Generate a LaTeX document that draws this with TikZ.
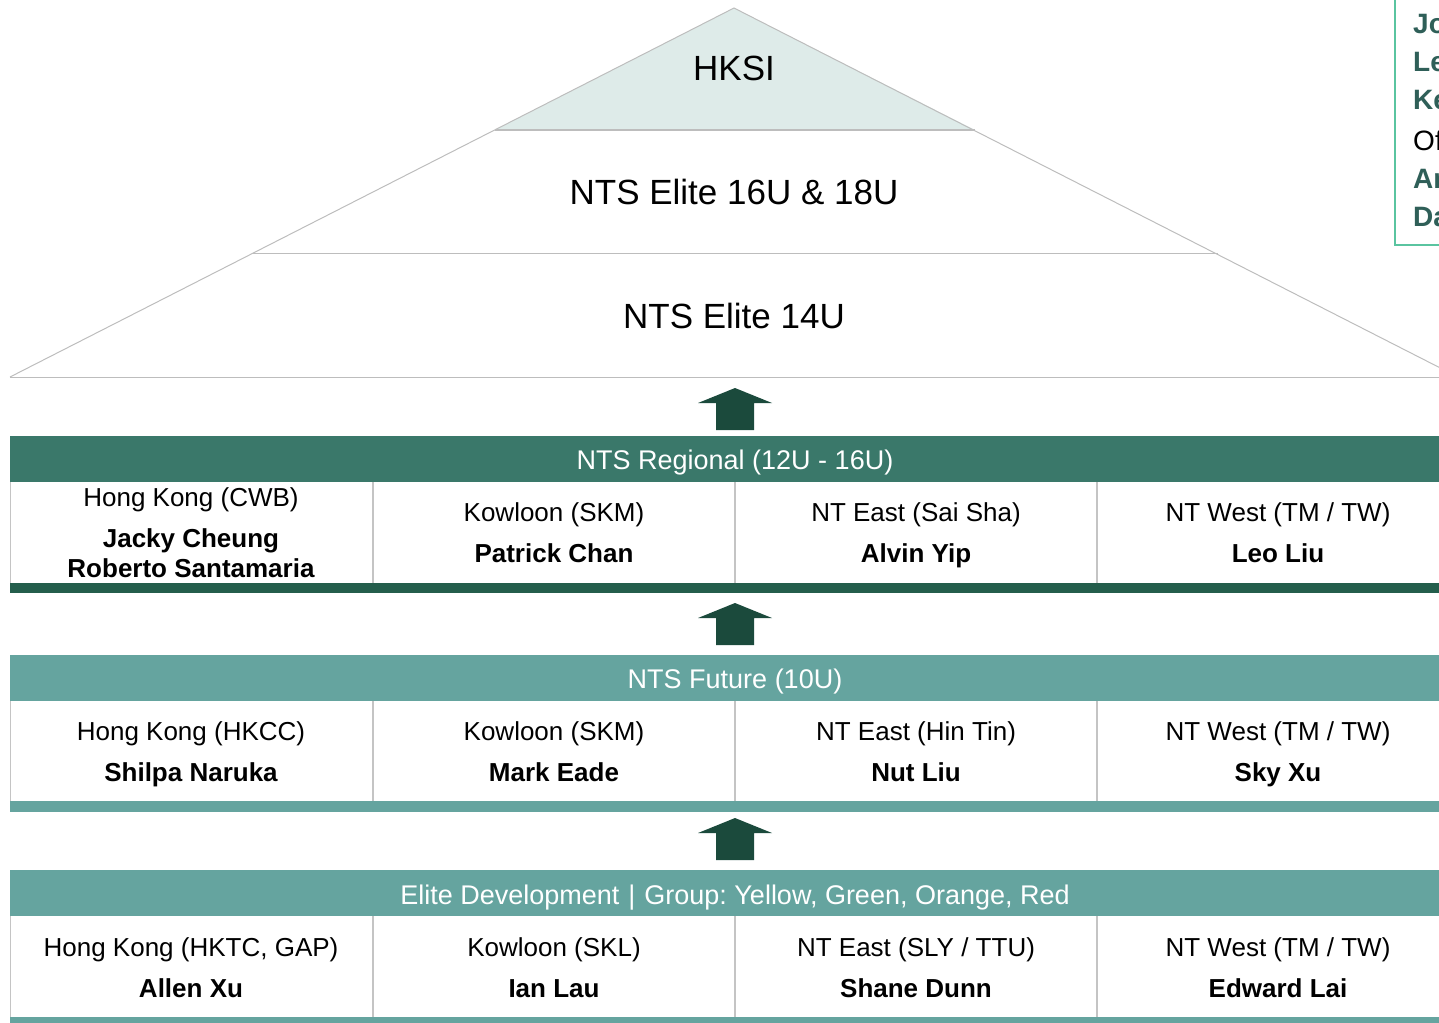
\documentclass[tikz,border=0pt]{standalone}
\usepackage{fontspec}
\setmainfont{Liberation Sans}
\frenchspacing
\definecolor{hksifill}{HTML}{DEEBE9}
\definecolor{pyrline}{HTML}{BDBDBD}
\definecolor{hdrdark}{HTML}{3A786A}
\definecolor{bardark}{HTML}{245E4C}
\definecolor{hdrlight}{HTML}{65A49F}
\definecolor{arrowgreen}{HTML}{1B4A3C}
\definecolor{cellline}{HTML}{C4C4C4}
\definecolor{boxgreen}{HTML}{5AC4A0}
\definecolor{boxtext}{HTML}{2F5F58}
\tikzset{
  pyrtext/.style={font=\fontsize{35}{40}\selectfont, text=black, inner sep=0pt, anchor=base},
  hdrtext/.style={font=\fontsize{27}{32}\selectfont, text=white, inner sep=0pt, anchor=base},
  celltext/.style={font=\fontsize{26}{30}\selectfont, text=black, inner sep=0pt, anchor=base},
  nametext/.style={font=\fontsize{26}{30}\selectfont\bfseries, text=black, inner sep=0pt, anchor=base},
  boxtxt/.style={font=\fontsize{28}{32}\selectfont\bfseries, text=boxtext, inner sep=0pt, anchor=base west},
  upblock/.style={fill=arrowgreen},
  cellsep/.style={draw=cellline, line width=1.5pt},
}
\begin{document}
\begin{tikzpicture}[x=1pt,y=-1pt]
\useasboundingbox (0,0) rectangle (1439,1022);
\begin{scope}
\clip (0,0) rectangle (1439,1022);
% pyramid
\fill[hksifill] (734,8) -- (495,130) -- (975,130) -- cycle;
\draw[pyrline, line width=1pt] (10,377) -- (734,8) -- (1458,377);
\draw[pyrline, line width=1.2pt] (495,130) -- (975,130);
\draw[pyrline, line width=1pt] (253,253) -- (1218,253);
\draw[pyrline, line width=1pt] (10,377) -- (1458,377);
\node[pyrtext] (hksi) at (734,81) {HKSI};
\node[pyrtext] (elite16) at (734,204) {NTS Elite 16U \& 18U};
\node[pyrtext] (elite14) at (734,328) {NTS Elite 14U};

% arrows
\foreach \yy in {388,603,818}{
  \fill[upblock] (735,\yy) -- (772,\yy+15) -- (754,\yy+15) -- (754,\yy+42) -- (716,\yy+42) -- (716,\yy+15) -- (698,\yy+15) -- cycle;
}

% table 1
\fill[hdrdark] (10,436) rectangle (1445,482);
\draw[cellline, line width=1pt] (10,482) -- (10,583);
\foreach \xx in {373,735,1097}{\draw[cellsep] (\xx,482) -- (\xx,583);}
\fill[bardark] (10,583) rectangle (1445,593);
\node[hdrtext] (h1) at (735,469) {NTS Regional (12U - 16U)};
\node[celltext] (r1a) at (191,506) {Hong Kong (CWB)};
\node[nametext] (r1an) at (191,547) {Jacky Cheung};
\node[nametext] (r1an2) at (191,577) {Roberto Santamaria};
\node[celltext] (r1b) at (554,521) {Kowloon (SKM)};
\node[nametext] (r1bn) at (554,562) {Patrick Chan};
\node[celltext] (r1c) at (916,521) {NT East (Sai Sha)};
\node[nametext] (r1cn) at (916,562) {Alvin Yip};
\node[celltext] (r1d) at (1278,521) {NT West (TM / TW)};
\node[nametext] (r1dn) at (1278,562) {Leo Liu};

% table 2
\fill[hdrlight] (10,655) rectangle (1445,701);
\draw[cellline, line width=1pt] (10,701) -- (10,801);
\foreach \xx in {373,735,1097}{\draw[cellsep] (\xx,701) -- (\xx,801);}
\fill[hdrlight] (10,801) rectangle (1445,812);
\node[hdrtext] (h2) at (735,688) {NTS Future (10U)};
\node[celltext] (r2a) at (191,740) {Hong Kong (HKCC)};
\node[nametext] (r2an) at (191,781) {Shilpa Naruka};
\node[celltext] (r2b) at (554,740) {Kowloon (SKM)};
\node[nametext] (r2bn) at (554,781) {Mark Eade};
\node[celltext] (r2c) at (916,740) {NT East (Hin Tin)};
\node[nametext] (r2cn) at (916,781) {Nut Liu};
\node[celltext] (r2d) at (1278,740) {NT West (TM / TW)};
\node[nametext] (r2dn) at (1278,781) {Sky Xu};

% table 3
\fill[hdrlight] (10,870) rectangle (1445,916);
\draw[cellline, line width=1pt] (10,916) -- (10,1017);
\foreach \xx in {373,735,1097}{\draw[cellsep] (\xx,916) -- (\xx,1017);}
\fill[hdrlight] (10,1017) rectangle (1445,1030);
\node[hdrtext] (h3) at (735,904) {Elite Development\,\,|\,\,Group: Yellow, Green, Orange, Red};
\node[celltext] (r3a) at (191,956) {Hong Kong (HKTC, GAP)};
\node[nametext] (r3an) at (191,997) {Allen Xu};
\node[celltext] (r3b) at (554,956) {Kowloon (SKL)};
\node[nametext] (r3bn) at (554,997) {Ian Lau};
\node[celltext] (r3c) at (916,956) {NT East (SLY / TTU)};
\node[nametext] (r3cn) at (916,997) {Shane Dunn};
\node[celltext] (r3d) at (1278,956) {NT West (TM / TW)};
\node[nametext] (r3dn) at (1278,997) {Edward Lai};

% top-right box
\fill[white] (1395,-5) rectangle (1445,245);
\draw[boxgreen, line width=2pt] (1395,-5) -- (1395,245) -- (1445,245);
\node[boxtxt] (b1) at (1413,34) {Jo};
\node[boxtxt] (b2) at (1413,72) {Le};
\node[boxtxt] (b3) at (1413,110) {Ke};
\node[boxtxt, text=black, font=\fontsize{28}{32}\selectfont] (b4) at (1413,150) {Of};
\node[boxtxt] (b5) at (1413,188) {Ar};
\node[boxtxt] (b6) at (1413,226) {Da};
\end{scope}
\end{tikzpicture}
\end{document}
